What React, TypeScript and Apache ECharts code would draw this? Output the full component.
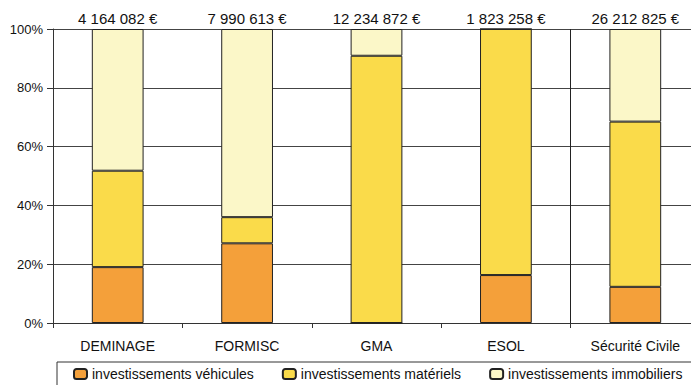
import React, { useEffect, useRef } from "react";
import * as echarts from "echarts";

const categories = ["DEMINAGE", "FORMISC", "GMA", "ESOL", "Sécurité Civile"];
const totals = ["4 164 082 €", "7 990 613 €", "12 234 872 €", "1 823 258 €", "26 212 825 €"];
const vehicules = [19.0, 27.1, 0, 16.3, 12.3];
const materiels = [32.8, 8.9, 90.9, 83.7, 56.2];
const immobiliers = [48.2, 64.0, 9.1, 0, 31.5];
const seriesNames = ["investissements véhicules", "investissements matériels", "investissements immobiliers"];
const seriesColors = ["#F4A03A", "#FADB4A", "#FBF7C8"];
const yTicks = [0, 20, 40, 60, 80, 100];

const FONT = "'Liberation Sans', Arial, sans-serif";

export default function App() {
  const ref = useRef<HTMLDivElement>(null);
  useEffect(() => {
    if (!ref.current) return;
    const chart = echarts.init(ref.current, null, { renderer: "svg" });
    const values = [vehicules, materiels, immobiliers];
    chart.setOption({
      animation: false,
      backgroundColor: "#ffffff",
      textStyle: { fontFamily: FONT },
      grid: {
        left: 53,
        top: 29,
        width: 647,
        height: 294,
        containLabel: false,
        outerBoundsMode: "none",
      },
      legend: {
        left: 57,
        top: 362,
        width: 660,
        orient: "horizontal",
        itemWidth: 13,
        itemHeight: 10,
        itemGap: 28,
        padding: [5, 12, 8, 16],
        borderColor: "#333",
        borderWidth: 1,
        textStyle: { fontSize: 14, color: "#111", fontFamily: FONT },
        data: seriesNames,
      },
      xAxis: [
        {
          type: "category",
          data: categories,
          position: "bottom",
          axisLine: { show: true, lineStyle: { color: "#333", width: 1 } },
          axisTick: { show: true, length: 5, lineStyle: { color: "#333" } },
          axisLabel: { fontSize: 14, color: "#111", margin: 16, fontFamily: FONT },
          splitLine: {
            show: true,
            interval: (i: number) => i === 0 || i === 4,
            lineStyle: { color: "#222", width: 1 },
          },
        },
        {
          type: "category",
          data: totals,
          position: "top",
          axisLine: { show: false },
          axisTick: { show: false },
          axisLabel: { fontSize: 15, color: "#111", margin: 3, fontFamily: FONT },
          splitLine: { show: false },
        },
      ],
      yAxis: {
        type: "value",
        min: 0,
        max: 100,
        interval: 20,
        axisLine: { show: true, lineStyle: { color: "#333", width: 1 } },
        axisTick: { show: true, length: 6, lineStyle: { color: "#333" } },
        axisLabel: {
          fontSize: 13,
          color: "#111",
          margin: 10,
          fontFamily: FONT,
          formatter: (v: number) => (yTicks.includes(v) ? v + "%" : ""),
        },
        splitLine: { show: true, lineStyle: { color: "#444", width: 1 } },
      },
      series: seriesNames.map((name, k) => ({
        name,
        type: "bar",
        stack: "total",
        xAxisIndex: 0,
        barWidth: "40%",
        data: values[k],
        itemStyle: { color: seriesColors[k], borderColor: "#222", borderWidth: 1 },
        emphasis: { disabled: true },
      })),
    });
    return () => chart.dispose();
  }, []);
  return (
    <div
      ref={ref}
      style={{ position: "fixed", left: 0, top: 0, width: 691, height: 385, overflow: "hidden" }}
    />
  );
}
